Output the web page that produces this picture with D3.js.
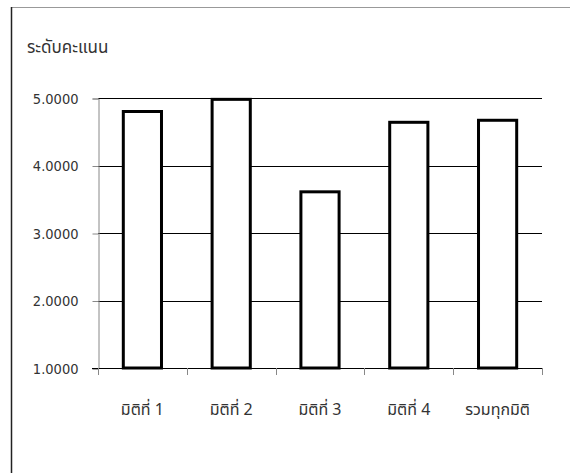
<!DOCTYPE html>
<html><head><meta charset="utf-8">
<script src="https://cdn.jsdelivr.net/npm/d3@7"></script>
<style>body{margin:0;background:#fff;} svg{display:block;}</style>
</head><body>
<script>
const categories = ["มิติที่ 1", "มิติที่ 2", "มิติที่ 3", "มิติที่ 4", "รวมทุกมิติ"];
const values = [4.80, 4.98, 3.61, 4.64, 4.67];
const yTicks = [1, 2, 3, 4, 5];
const yTitle = "ระดับคะแนน";

(function () {
const W = 570, H = 473;
const svg = d3.select("body").append("svg").attr("width", W).attr("height", H);
const pL = 98, pR = 542, pT = 98, pB = 368;

// outer frame
svg.append("line").attr("x1", 11).attr("x2", W).attr("y1", 7.5).attr("y2", 7.5).attr("stroke", "#999").attr("stroke-width", 1);
svg.append("line").attr("x1", 11.5).attr("x2", 11.5).attr("y1", 7).attr("y2", H).attr("stroke", "#222").attr("stroke-width", 1.5);

const x = d3.scaleBand().domain(categories).range([pL, pR]).paddingInner(0.57).paddingOuter(0.285);
const y = d3.scaleLinear().domain([1, 5]).range([pB, pT]);

// gridlines
svg.append("g").selectAll("line").data(yTicks.filter(t => t > 1)).join("line")
  .attr("x1", pL).attr("x2", pR)
  .attr("y1", d => Math.round(y(d)) + 0.5).attr("y2", d => Math.round(y(d)) + 0.5)
  .attr("stroke", "#000").attr("stroke-width", 1);

// y axis
const yAxis = d3.axisLeft(y).tickValues(yTicks).tickFormat(d3.format(".4f")).tickSize(6).tickPadding(14);
const gy = svg.append("g").attr("transform", `translate(${pL + 0.5},0.5)`).call(yAxis);
gy.select(".domain").attr("stroke", "#888");
gy.selectAll(".tick line").attr("stroke", "#888");
gy.selectAll("text").attr("font-family", "Tahoma, 'DejaVu Sans Condensed', 'DejaVu Sans', sans-serif").attr("font-size", 14.5).attr("fill", "#333");

// x axis
const xb = d3.scaleLinear().domain([0, categories.length]).range([pL, pR]);
svg.append("line").attr("x1", pL - 6).attr("x2", pR).attr("y1", pB + 0.5).attr("y2", pB + 0.5).attr("stroke", "#000");
svg.append("g").selectAll("line").data(d3.range(categories.length + 1)).join("line")
  .attr("x1", d => Math.round(xb(d)) + 0.5).attr("x2", d => Math.round(xb(d)) + 0.5)
  .attr("y1", pB).attr("y2", pB + 7).attr("stroke", "#888");

// bars
svg.append("g").selectAll("rect").data(values).join("rect")
  .attr("x", (d, i) => x(categories[i]))
  .attr("y", d => y(d))
  .attr("width", x.bandwidth())
  .attr("height", d => y(1) - y(d))
  .attr("fill", "#fff").attr("stroke", "#000").attr("stroke-width", 3);

// x labels
svg.append("g").selectAll("text").data(categories).join("text")
  .attr("x", d => x(d) + x.bandwidth() / 2)
  .attr("y", 415)
  .attr("text-anchor", "middle")
  .attr("font-family", "Tahoma, 'Noto Sans Thai', 'Noto Sans', sans-serif")
  .attr("font-size", 16).attr("fill", "#333")
  .text(d => d);

// title
svg.append("text").attr("x", 27).attr("y", 53)
  .attr("font-family", "Tahoma, 'Noto Sans Thai', 'Noto Sans', sans-serif")
  .attr("font-size", 17).attr("fill", "#333").text(yTitle);
})();
</script>
</body></html>
